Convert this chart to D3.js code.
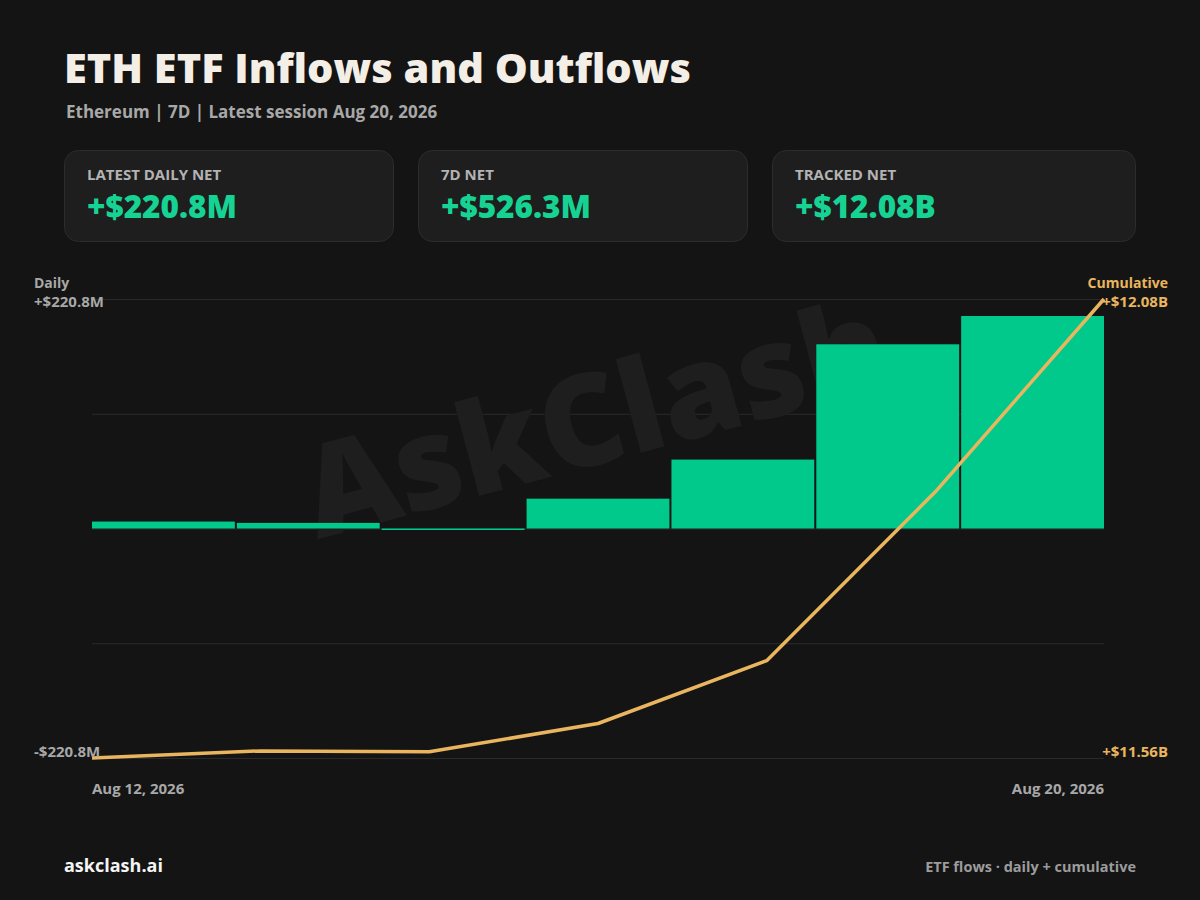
<!DOCTYPE html>
<html>
<head>
<meta charset="utf-8">
<script src="https://cdn.jsdelivr.net/npm/d3@7"></script>
<style>
  body { margin: 0; background: #141414; }
  svg { display: block; }
  text { font-family: "Open Sans", Lato, sans-serif; }
</style>
</head>
<body>
<script>
// sessions shown in the chart
const sessions = ["Aug 12, 2026", "Aug 13, 2026", "Aug 14, 2026", "Aug 17, 2026", "Aug 18, 2026", "Aug 19, 2026", "Aug 20, 2026"];
// daily net flow, $M
const dailyNet = [7.2, 5.8, -1.5, 31.0, 71.6, 191.4, 220.8];
// cumulative tracked net, $B
const cumulative = [11.557, 11.565, 11.564, 11.596, 11.667, 11.858, 12.076];

const cardLabels = ["LATEST DAILY NET", "7D NET", "TRACKED NET"];
const cardValues = ["+$220.8M", "+$526.3M", "+$12.08B"];

const width = 1200, height = 900;
const plot = { left: 92, right: 1104, top: 299, bottom: 758 };

const svg = d3.select("body").append("svg")
    .attr("width", width)
    .attr("height", height);

svg.append("rect").attr("width", width).attr("height", height).attr("fill", "#141414");

// header
svg.append("text")
    .attr("x", 64).attr("y", 83)
    .attr("fill", "#f4efe6")
    .style("font-size", "41.5px").style("font-weight", 800)
    .text("ETH ETF Inflows and Outflows");

svg.append("text")
    .attr("x", 66).attr("y", 118)
    .attr("fill", "#a8a8a8")
    .style("font-size", "17px").style("font-weight", 700)
    .text("Ethereum | 7D | Latest session " + sessions[sessions.length - 1]);

// stat cards
const cardX = [64, 418, 772], cardW = [330, 330, 364];
const cards = svg.selectAll("g.card")
    .data(cardLabels)
    .enter().append("g")
    .attr("class", "card")
    .attr("transform", (d, i) => "translate(" + cardX[i] + ",150)");

cards.append("rect")
    .attr("x", 0.5).attr("y", 0.5)
    .attr("width", (d, i) => cardW[i] - 1).attr("height", 91)
    .attr("rx", 14)
    .attr("fill", "#1e1e1e")
    .attr("stroke", "#2c2c2c");

cards.append("text")
    .attr("x", 23).attr("y", 30)
    .attr("fill", "#b3b3b3")
    .style("font-size", "15px").style("font-weight", 700)
    .text(d => d);

cards.append("text")
    .attr("x", 23).attr("y", 68)
    .attr("fill", "#17d393")
    .style("font-size", "31.5px").style("font-weight", 800)
    .text((d, i) => cardValues[i]);

// scales
const maxAbs = d3.max(dailyNet, d => Math.abs(d));
const x = d3.scaleBand().domain(sessions).range([plot.left, plot.right]).paddingInner(0.014).paddingOuter(0);
const xp = d3.scalePoint().domain(sessions).range([plot.left, plot.right]);
const y = d3.scaleLinear().domain([-maxAbs * 1.08, maxAbs * 1.08]).range([plot.bottom, plot.top]);
const yc = d3.scaleLinear().domain(d3.extent(cumulative)).range([plot.bottom, plot.top]);

// gridlines
const gridVals = d3.range(5).map(i => y.domain()[0] + i * (y.domain()[1] - y.domain()[0]) / 4);
svg.append("g")
    .attr("transform", "translate(" + plot.left + ",0)")
    .call(d3.axisLeft(y).tickValues(gridVals).tickSize(-(plot.right - plot.left)).tickFormat(""))
    .call(g => g.select(".domain").remove())
    .call(g => g.selectAll(".tick line").attr("stroke", "#2a2a2a"));

// watermark
svg.append("text")
    .attr("transform", "translate(594,414) rotate(-15)")
    .attr("text-anchor", "middle")
    .attr("dominant-baseline", "central")
    .attr("fill", "#1e1e1e")
    .style("font-size", "128px").style("font-weight", 800)
    .text("AskClash");

// daily bars
svg.append("g").selectAll("rect")
    .data(dailyNet)
    .enter().append("rect")
    .attr("x", (d, i) => x(sessions[i]))
    .attr("width", x.bandwidth())
    .attr("y", d => y(Math.max(0, d)))
    .attr("height", d => Math.max(1.5, Math.abs(y(d) - y(0))))
    .attr("fill", "#00c98b");

// cumulative line
const line = d3.line()
    .x((d, i) => xp(sessions[i]))
    .y(d => yc(d));

svg.append("path")
    .datum(cumulative)
    .attr("d", line)
    .attr("fill", "none")
    .attr("stroke", "#e9b55e")
    .attr("stroke-width", 3.5)
    .attr("stroke-linejoin", "round");

// axis labels
const fmtM = v => (v < 0 ? "-" : "+") + "$" + Math.abs(v).toFixed(1) + "M";
const fmtB = v => "+$" + v.toFixed(2) + "B";

function label(txt, xPos, yPos, anchor, color, size) {
    svg.append("text")
        .attr("x", xPos).attr("y", yPos)
        .attr("text-anchor", anchor)
        .attr("fill", color)
        .style("font-size", (size || 14) + "px").style("font-weight", 700)
        .text(txt);
}

label("Daily", 34, 288, "start", "#a8a8a8");
label(fmtM(maxAbs), 34, 307, "start", "#a8a8a8", 15);
label(fmtM(-maxAbs), 34, 757, "start", "#a8a8a8", 15);
label("Cumulative", 1168, 288, "end", "#e9b55e");
label(fmtB(d3.max(cumulative)), 1168, 307, "end", "#e9b55e", 15);
label(fmtB(d3.min(cumulative)), 1168, 757, "end", "#e9b55e", 15);

label(sessions[0], plot.left, 794, "start", "#a8a8a8", 15);
label(sessions[sessions.length - 1], plot.right, 794, "end", "#a8a8a8", 15);

// footer
label("askclash.ai", 64, 872, "start", "#f4f4f4", 18);
label("ETF flows \u00b7 daily + cumulative", 1136, 872, "end", "#9c9c9c", 14.5);
</script>
</body>
</html>
